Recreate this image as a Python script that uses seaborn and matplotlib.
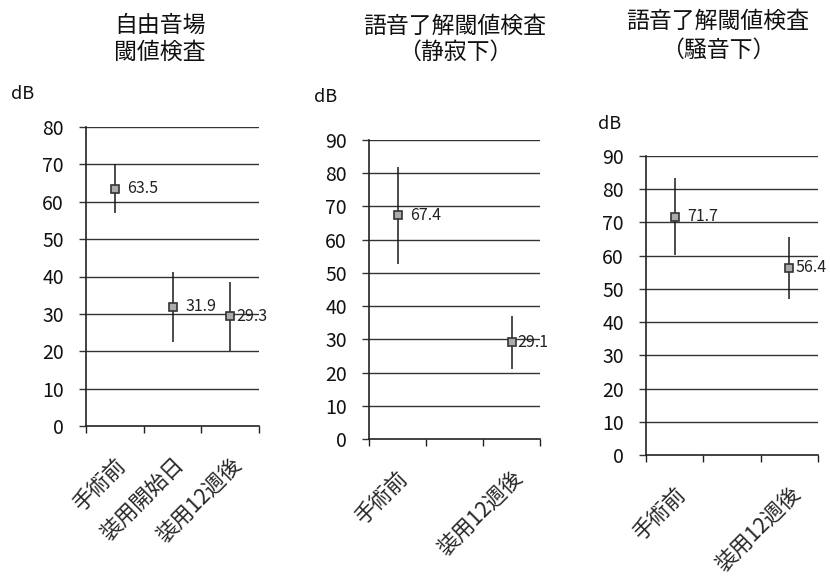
import numpy as np
import pandas as pd
import matplotlib
matplotlib.use('Agg')
import matplotlib.pyplot as plt
import matplotlib.transforms as mtrans
import seaborn as sns

sns.set_theme(style="white")
plt.rcParams['font.family'] = ['Noto Sans CJK JP', 'DejaVu Sans']

# データ
order = ['手術前', '装用開始日', '装用12週後']
tick_labels_1 = ['手術前', '装用開始日', '装用12週後']
tick_labels_2 = ['手術前', '', '装用12週後']

free_cat = ['手術前', '装用開始日', '装用12週後']
free_mean = [63.5, 31.9, 29.3]
free_sd = [6.5, 9.4, 9.1]

quiet_cat = ['手術前', '装用12週後']
quiet_mean = [67.4, 29.1]
quiet_sd = [14.6, 8.0]

noise_cat = ['手術前', '装用12週後']
noise_mean = [71.7, 56.4]
noise_sd = [11.6, 9.3]

titles = [['自由音場', '閾値検査'],
          ['語音了解閾値検査', '（静寂下）'],
          ['語音了解閾値検査', '（騒音下）']]
ymax = [80, 90, 90]

W, H = 830, 583
fig = plt.figure(figsize=(W / 100, H / 100), dpi=100)

# (left, top, bottom, right) in pixels
boxes = [(86, 127, 426, 259), (369, 140, 439, 540), (646, 156, 455, 818)]
title_x = [160, 455, 718]
title_y = [(25, 52), (26, 52), (21, 50)]
db_pos = [(23, 94), (326, 97), (610, 124)]

panels = [
    (free_cat, free_mean, free_sd, tick_labels_1),
    (quiet_cat, quiet_mean, quiet_sd, tick_labels_2),
    (noise_cat, noise_mean, noise_sd, tick_labels_2),
]

for i, (cats, means, sds, tl) in enumerate(panels):
    l, t, b, r = boxes[i]
    ax = fig.add_axes([l / W, 1 - b / H, (r - l) / W, (b - t) / H])
    df = pd.DataFrame({'cat': cats, 'dB': means, 'sd': sds})

    xs = [order.index(c) for c in cats]
    ax.errorbar(xs, df['dB'], yerr=df['sd'], fmt='none', ecolor='#1a1a1a',
                elinewidth=1.1, capsize=0, zorder=3)
    sns.pointplot(data=df, x='cat', y='dB', order=order, linestyle='none',
                  errorbar=None, markers='s', color='#ababab', ax=ax,
                  markersize=5.5, markeredgecolor='#333333', markeredgewidth=1.2,
                  zorder=4)
    for x, v in zip(xs, means):
        off = 4.5 if x == len(order) - 1 else 9
        ax.annotate(f'{v}', (x, v), xytext=(off, 0), textcoords='offset points',
                    ha='left', va='center', fontsize=11.5, color='#222222',
                    zorder=5)

    ax.set_xlim(-0.5, 2.5)
    ax.set_ylim(0, ymax[i])
    ax.set_yticks(np.arange(0, ymax[i] + 1, 10))
    for yv in np.arange(10, ymax[i] + 1, 10):
        ax.axhline(yv, color='#333333', lw=1.0, zorder=1)
    ax.set_xticks([0, 1, 2])
    ax.set_xticklabels(tl, rotation=45, ha='right', va='top',
                       rotation_mode='anchor', fontsize=15.5)
    shift = mtrans.ScaledTranslation(5 / 100, 0, fig.dpi_scale_trans)
    for lab in ax.get_xticklabels():
        lab.set_transform(lab.get_transform() + shift)
    ax.set_xticks([-0.5, 0.5, 1.5, 2.5], minor=True)
    ax.tick_params(axis='x', which='major', length=0, pad=20)
    ax.tick_params(axis='x', which='minor', length=5, width=1, color='#222222',
                   direction='out', bottom=True)
    ax.tick_params(axis='y', labelsize=14, length=5, width=1, color='#333333',
                   direction='out', left=True, pad=11, colors='#111111')
    ax.set_xlabel('')
    ax.set_ylabel('')
    for s in ['top', 'right']:
        ax.spines[s].set_visible(False)
    for s in ['left', 'bottom']:
        ax.spines[s].set_color('#222222')
        ax.spines[s].set_linewidth(1.2)

    for line, ty in zip(titles[i], title_y[i]):
        fig.text(title_x[i] / W, 1 - ty / H, line, ha='center', va='center',
                 fontsize=16.5, color='#111111')
    dx, dy = db_pos[i]
    fig.text(dx / W, 1 - dy / H, 'dB', ha='center', va='center',
             fontsize=13, color='#111111')

fig.savefig('out.png', dpi=100, facecolor='white')
